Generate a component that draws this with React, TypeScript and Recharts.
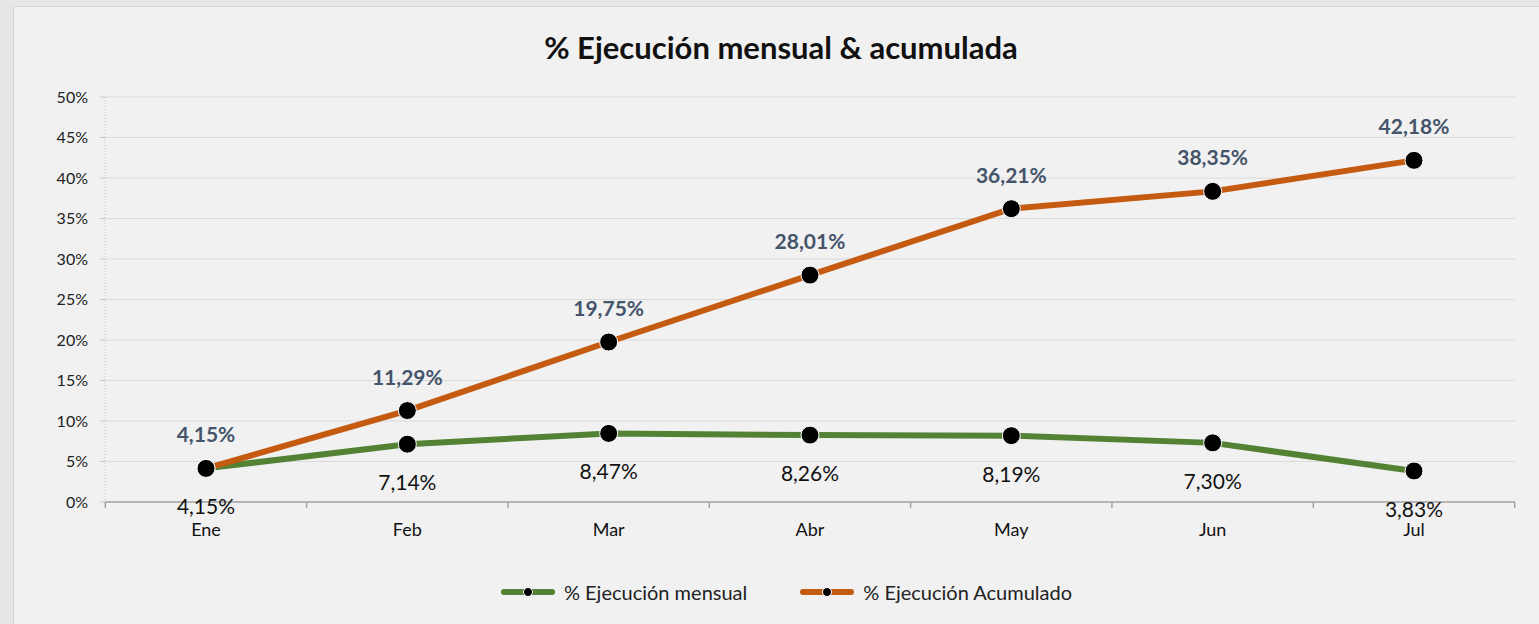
import React from 'react';
import { ComposedChart, Line, XAxis, YAxis, CartesianGrid, LabelList } from 'recharts';

const months = ['Ene', 'Feb', 'Mar', 'Abr', 'May', 'Jun', 'Jul'];
const mensual = [4.15, 7.14, 8.47, 8.26, 8.19, 7.3, 3.83];
const acumulado = [4.15, 11.29, 19.75, 28.01, 36.21, 38.35, 42.18];
const yTicks = [0, 5, 10, 15, 20, 25, 30, 35, 40, 45, 50];
const seriesNames = ['% Ejecución mensual', '% Ejecución Acumulado'];
const seriesColors = ['#548235', '#C55A11'];
const title = '% Ejecución mensual & acumulada';

const data = months.map((m, i) => ({ month: m, mensual: mensual[i], acumulado: acumulado[i] }));

const FONT = 'Lato, "Open Sans", sans-serif';
const fmt = (v: number) => v.toFixed(2).replace('.', ',') + '%';

const XTick = (props: any) => {
  const { x, y, payload, index, visibleTicksCount, width } = props;
  const half = payload && payload.offset ? payload.offset : width / visibleTicksCount / 2;
  return (
    <g>
      <line x1={x - half} y1={y} x2={x - half} y2={y + 6} stroke="#a6a6a6" strokeWidth={1.5} />
      {index === visibleTicksCount - 1 && (
        <line x1={x + half} y1={y} x2={x + half} y2={y + 6} stroke="#a6a6a6" strokeWidth={1.5} />
      )}
      <text x={x} y={y + 34} textAnchor="middle" fontSize={18} fill="#111" fontFamily={FONT}>
        {payload.value}
      </text>
    </g>
  );
};

const TopLabel = (p: any) => (
  <text x={p.x} y={p.y - 26} textAnchor="middle" fontSize={21} fontWeight={700} fill="#44546A" fontFamily={FONT}>
    {fmt(Number(p.value))}
  </text>
);

const BottomLabel = (p: any) => (
  <text x={p.x} y={p.y + 46} textAnchor="middle" fontSize={21} fill="#111" fontFamily={FONT}>
    {fmt(Number(p.value))}
  </text>
);

const LegendIcon = ({ color }: { color: string }) => (
  <svg width={56} height={12} style={{ display: 'block' }}>
    <line x1={4} y1={6} x2={52} y2={6} stroke={color} strokeWidth={6} strokeLinecap="round" />
    <circle cx={28} cy={6} r={4.5} fill="#000" stroke="#fff" strokeWidth={1} />
  </svg>
);

export default function App() {
  return (
    <div style={{ position: 'absolute', left: 0, top: 0, width: 1539, height: 624, overflow: 'hidden', background: '#e6e6e6' }}>
      <div
        style={{
          position: 'absolute',
          left: 13,
          top: 6,
          width: 1600,
          height: 700,
          background: '#f1f1f1',
          border: '1px solid #d4d4d4',
        }}
      />
      <div
        style={{
          position: 'absolute',
          left: 0,
          top: 27,
          width: 1562,
          height: 40,
          lineHeight: '40px',
          textAlign: 'center',
          fontFamily: FONT,
          fontWeight: 700,
          fontSize: 31,
          color: '#111',
        }}
      >
        {title}
      </div>
      <div style={{ position: 'absolute', left: 0, top: 0 }}>
        <ComposedChart width={1539} height={624} data={data} margin={{ top: 97, right: 24, left: 0, bottom: 82 }}>
          <CartesianGrid vertical={false} stroke="#dadada" strokeWidth={1} />
          <XAxis
            dataKey="month"
            height={40}
            padding={{ left: 101, right: 101 }}
            axisLine={{ stroke: '#a6a6a6', strokeWidth: 1.5 }}
            tickLine={false}
            tickSize={0}
            tickMargin={0}
            tick={<XTick />}
            interval={0}
          />
          <YAxis
            width={105}
            domain={[0, 50]}
            ticks={yTicks}
            interval={0}
            tickFormatter={(v: number) => `${v}%`}
            axisLine={{ stroke: '#c8c8c8', strokeDasharray: '1 2' }}
            tickLine={{ stroke: '#c8c8c8' }}
            tickSize={5}
            tickMargin={12}
            tick={{ fontSize: 16, fill: '#222', fontFamily: FONT }}
          />
          <Line
            dataKey="mensual"
            name={seriesNames[0]}
            stroke={seriesColors[0]}
            strokeWidth={6}
            type="linear"
            dot={{ r: 9, fill: '#000', stroke: '#fff', strokeWidth: 1 }}
            activeDot={false}
            isAnimationActive={false}
          >
            <LabelList dataKey="mensual" content={<BottomLabel />} />
          </Line>
          <Line
            dataKey="acumulado"
            name={seriesNames[1]}
            stroke={seriesColors[1]}
            strokeWidth={6}
            type="linear"
            dot={{ r: 9, fill: '#000', stroke: '#fff', strokeWidth: 1 }}
            activeDot={false}
            isAnimationActive={false}
          >
            <LabelList dataKey="acumulado" content={<TopLabel />} />
          </Line>
        </ComposedChart>
      </div>
      <div
        style={{
          position: 'absolute',
          left: 0,
          top: 578,
          width: 1572,
          height: 28,
          display: 'flex',
          justifyContent: 'center',
          alignItems: 'center',
          gap: 52,
          fontFamily: FONT,
          fontSize: 20,
          color: '#222',
        }}
      >
        {seriesNames.map((n, i) => (
          <div key={n} style={{ display: 'flex', alignItems: 'center', gap: 8 }}>
            <LegendIcon color={seriesColors[i]} />
            <span>{n}</span>
          </div>
        ))}
      </div>
    </div>
  );
}
